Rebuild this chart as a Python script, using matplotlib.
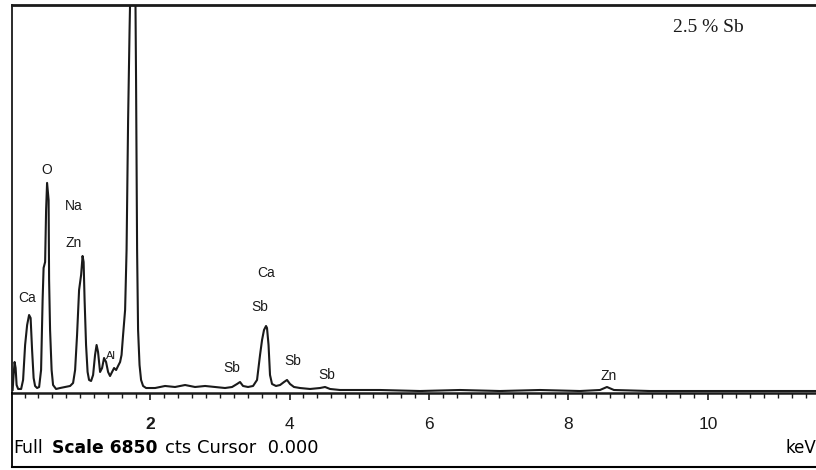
"""
EDX spectrum (2.5 % Sb) - redrawn with matplotlib
"""
import matplotlib
matplotlib.use("Agg")
import matplotlib.pyplot as plt
from matplotlib.ticker import MultipleLocator

# --- data ---
energy_kev = [
    0.029, 0.043, 0.057, 0.072, 0.086, 0.108, 0.151, 0.179, 0.208, 0.237,
    0.265, 0.287, 0.308, 0.330, 0.351, 0.380, 0.409, 0.437, 0.459, 0.473,
    0.495, 0.509, 0.523, 0.545, 0.552, 0.566, 0.588, 0.609, 0.652, 0.710,
    0.781, 0.853, 0.896, 0.925, 0.953, 0.982, 1.011, 1.032, 1.047, 1.061,
    1.082, 1.104, 1.125, 1.154, 1.183, 1.211, 1.233, 1.254, 1.283, 1.312,
    1.340, 1.369, 1.398, 1.426, 1.455, 1.484, 1.513, 1.541, 1.570, 1.591,
    1.613, 1.642, 1.663, 1.685, 1.706, 1.728, 1.756, 1.785, 1.799, 1.814,
    1.828, 1.849, 1.871, 1.900, 1.943, 2.072, 2.215, 2.358, 2.502, 2.645,
    2.789, 2.932, 3.075, 3.176, 3.247, 3.290, 3.333, 3.405, 3.477, 3.534,
    3.577, 3.606, 3.634, 3.663, 3.677, 3.699, 3.720, 3.749, 3.806, 3.864,
    3.921, 3.964, 4.007, 4.064, 4.151, 4.294, 4.437, 4.509, 4.581, 4.724,
    5.297, 5.871, 6.444, 7.018, 7.591, 8.165, 8.452, 8.552, 8.652, 9.168,
    9.885, 10.602, 11.319, 11.548,
]
counts = [
    53, 318, 547, 441, 141, 71, 71, 230, 848, 1201,
    1377, 1324, 759, 265, 124, 88, 106, 406, 1642, 2208,
    2313, 3232, 3709, 3408, 1996, 1113, 406, 141, 71, 88,
    106, 124, 177, 406, 1024, 1819, 2084, 2419, 2313, 1642,
    848, 371, 230, 212, 318, 671, 848, 724, 371, 441,
    618, 547, 371, 300, 371, 441, 406, 477, 547, 671,
    1024, 1466, 2525, 4821, 6411, 7823, 9060, 7823, 5528, 2525,
    1113, 494, 230, 124, 88, 88, 124, 106, 141, 106,
    124, 106, 88, 106, 159, 194, 124, 106, 124, 230,
    671, 936, 1113, 1183, 1148, 848, 318, 159, 124, 141,
    194, 230, 159, 106, 88, 71, 88, 106, 71, 53,
    53, 35, 53, 35, 53, 35, 53, 106, 53, 35,
    35, 35, 35, 35,
]

# peak labels (text, keV, cts)
peak_names = ["O", "Na", "Zn", "Ca", "Al", "Ca", "Sb", "Sb", "Sb", "Sb", "Zn"]
peak_kev = [0.523, 0.910, 0.910, 0.237, 1.441, 3.663, 3.577, 3.176, 4.050, 4.538, 8.581]
peak_cts = [3938, 3302, 2649, 1678, 653, 2119, 1519, 441, 565, 318, 300]

tick_kev = [2, 4, 6, 8, 10]
tick_labels = ["2", "4", "6", "8", "10"]

FULL_SCALE = 6850
sample_label = "2.5 % Sb"

W, H = 816, 470
fig = plt.figure(figsize=(W / 100, H / 100), dpi=100)
fig.patch.set_facecolor("white")


def fx(px):
    return px / W


def fy(py):
    return 1 - py / H


ax = fig.add_axes([fx(12), fy(393), 1 - fx(12), fy(5) - fy(393)])
ax.plot(energy_kev, counts, color="#1a1a1a", lw=1.5, clip_on=True)
ax.set_xlim(0.02, 11.55)
ax.set_ylim(0, FULL_SCALE)

ax.spines["right"].set_visible(False)
ax.spines["top"].set_linewidth(2.0)
ax.spines["left"].set_linewidth(1.3)
ax.spines["bottom"].set_linewidth(1.8)
for s in ["top", "left", "bottom"]:
    ax.spines[s].set_color("#1a1a1a")

ax.set_yticks([])
ax.set_xticks(tick_kev)
ax.set_xticklabels(tick_labels, family="Liberation Sans", fontsize=12.5)
ax.get_xticklabels()[0].set_fontweight("bold")
ax.xaxis.set_minor_locator(MultipleLocator(0.2))
ax.tick_params(axis="x", which="major", direction="out", length=5, width=1.2,
               pad=12, colors="#1a1a1a")
ax.tick_params(axis="x", which="minor", direction="out", length=3.5, width=1.0,
               colors="#1a1a1a")

for name, k, c in zip(peak_names, peak_kev, peak_cts):
    ax.text(k, c, name, ha="center", va="center", family="Liberation Sans",
            fontsize=8 if name == "Al" else 10, color="#1a1a1a")

ax.text(10.0, 6446, sample_label, ha="center", va="center",
        family="Liberation Serif", fontsize=14, color="#1a1a1a")

# lower status box
box = fig.add_axes([fx(12), fy(467), 1 - fx(12), fy(393) - fy(467)])
box.set_xticks([])
box.set_yticks([])
for s in ["top", "right"]:
    box.spines[s].set_visible(False)
box.spines["left"].set_linewidth(1.3)
box.spines["bottom"].set_linewidth(1.5)
box.patch.set_alpha(0)

ty = fy(448)
fig.text(fx(13), ty, "Full", family="DejaVu Sans", fontsize=12.5, va="center")
fig.text(fx(52), ty, f"Scale {FULL_SCALE}", family="DejaVu Sans",
         fontsize=12.3, fontweight="bold", va="center")
fig.text(fx(165), ty, "cts Cursor  0.000", family="DejaVu Sans",
         fontsize=13, va="center")
fig.text(fx(816), ty, "keV", family="DejaVu Sans", fontsize=12,
         va="center", ha="right")

fig.savefig("out.png", dpi=100)
